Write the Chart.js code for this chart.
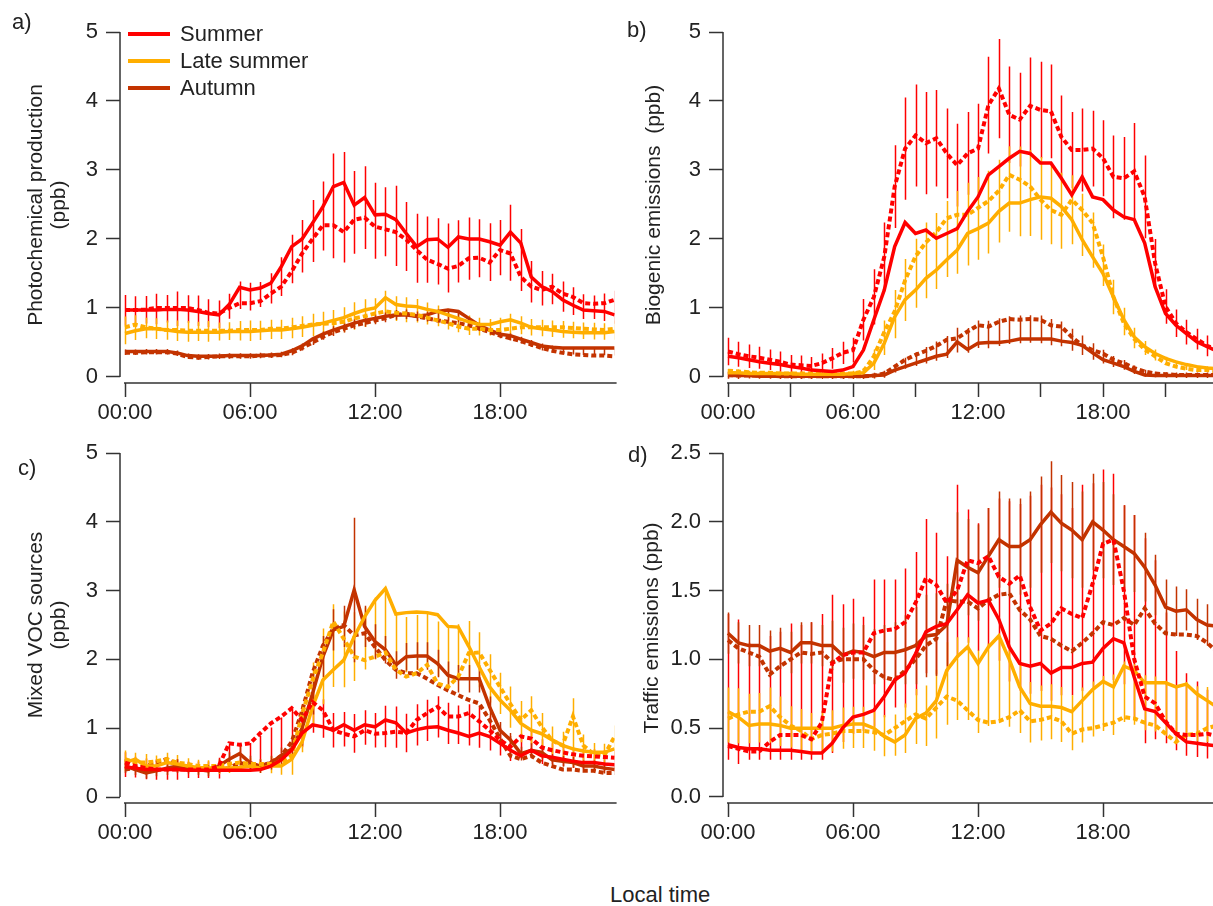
<!DOCTYPE html>
<html>
<head>
<meta charset="utf-8">
<script src="https://cdn.jsdelivr.net/npm/chart.js@4.4.1/dist/chart.umd.min.js"></script>
<style>
  html, body { margin: 0; padding: 0; background: #fff; overflow: hidden; }
  body { width: 1213px; height: 906px; position: relative; font-family: "Liberation Sans", Arial, sans-serif; color: #222; }
  canvas { position: absolute; }
  .txt { position: absolute; font-size: 22px; white-space: pre; line-height: 23px; }
  .ytitle { position: absolute; font-size: 21px; white-space: pre; line-height: 23px; text-align: center;
            transform: translate(-50%, -50%) rotate(-90deg); }
  .legend { position: absolute; left: 128px; top: 20px; font-size: 22px; }
  .legend div { height: 27px; line-height: 27px; }
  .legend span.swatch { display: inline-block; width: 42px; height: 4px; vertical-align: middle; margin-right: 10px; margin-top: -3px; }
</style>
</head>
<body>
<canvas id="panel-a" width="640" height="440" style="left:0px; top:0px;"></canvas>
<canvas id="panel-b" width="640" height="440" style="left:603px; top:0px;"></canvas>
<canvas id="panel-c" width="640" height="440" style="left:0px; top:420px;"></canvas>
<canvas id="panel-d" width="640" height="440" style="left:603px; top:420px;"></canvas>

<div class="txt" style="left:12px; top:10px;">a)</div>
<div class="txt" style="left:627px; top:18px;">b)</div>
<div class="txt" style="left:18px; top:456px;">c)</div>
<div class="txt" style="left:628px; top:443px;">d)</div>

<div class="ytitle" style="left:46px; top:205px;">Photochemical production
(ppb)</div>
<div class="ytitle" style="left:652px; top:205px;">Biogenic emissions  (ppb)</div>
<div class="ytitle" style="left:46px; top:625px;">Mixed VOC sources
(ppb)</div>
<div class="ytitle" style="left:650px; top:628px;">Traffic emissions (ppb)</div>

<div class="txt" style="left:610px; top:883px;">Local time</div>

<div class="legend">
  <div><span class="swatch" style="background:#ff0000"></span>Summer</div>
  <div><span class="swatch" style="background:#ffae00"></span>Late summer</div>
  <div><span class="swatch" style="background:#c33300"></span>Autumn</div>
</div>

<script>
// Half-hourly diel profiles (local time, hours)
const hours = [0, 0.5, 1, 1.5, 2, 2.5, 3, 3.5, 4, 4.5, 5, 5.5, 6, 6.5, 7, 7.5, 8, 8.5, 9, 9.5,
  10, 10.5, 11, 11.5, 12, 12.5, 13, 13.5, 14, 14.5, 15, 15.5, 16, 16.5, 17, 17.5, 18, 18.5, 19, 19.5,
  20, 20.5, 21, 21.5, 22, 22.5, 23, 23.5];

const seasonNames = ['Summer', 'Late summer', 'Autumn'];
const seasonColors = ['#ff0000', '#ffae00', '#c33300'];

const xTicksMain = [0, 6, 12, 18];
const xLabelsMain = ['00:00', '06:00', '12:00', '18:00'];
const xTicksMinor = [0, 3, 6, 9, 12, 15, 18, 21];
const xLabelsMinor = ['00:00', '', '06:00', '', '12:00', '', '18:00', ''];
const yTicksFive = [0, 1, 2, 3, 4, 5];
const yLabelsFive = ['0', '1', '2', '3', '4', '5'];
const yTicksTraffic = [0, 0.5, 1, 1.5, 2, 2.5];
const yLabelsTraffic = ['0.0', '0.5', '1.0', '1.5', '2.0', '2.5'];

// a) Photochemical production (ppb)
const photoSummer = [0.97, 0.97, 0.97, 0.97, 0.98, 0.98, 0.97, 0.95, 0.92, 0.9,
  1.05, 1.3, 1.26, 1.29, 1.36, 1.6, 1.89, 2.0, 2.23, 2.47,
  2.76, 2.82, 2.49, 2.6, 2.35, 2.36, 2.28, 2.08, 1.89, 1.99,
  2.0, 1.88, 2.03, 2.0, 2.0, 1.96, 1.91, 2.1, 1.94, 1.45,
  1.31, 1.24, 1.12, 1.04, 0.97, 0.96, 0.95, 0.9];
const photoSummerDash = [0.97, 0.97, 0.98, 1.0, 1.0, 1.0, 1.0, 0.97, 0.93, 0.92,
  1.0, 1.07, 1.07, 1.1, 1.21, 1.31, 1.53, 1.79, 2.0, 2.2,
  2.2, 2.1, 2.28, 2.31, 2.18, 2.14, 2.1, 1.99, 1.84, 1.7,
  1.64, 1.57, 1.61, 1.72, 1.73, 1.66, 1.84, 1.79, 1.45, 1.31,
  1.26, 1.31, 1.21, 1.16, 1.07, 1.06, 1.07, 1.12];
const photoSummerErr = [0.22, 0.2, 0.2, 0.22, 0.2, 0.25, 0.2, 0.22, 0.2, 0.2,
  0.18, 0.2, 0.2, 0.18, 0.22, 0.28, 0.35, 0.38, 0.45, 0.5,
  0.76, 0.8, 0.6, 0.6, 0.55, 0.5, 0.58, 0.5, 0.5, 0.48,
  0.48, 0.5, 0.45, 0.45, 0.42, 0.42, 0.4, 0.55, 0.45, 0.3,
  0.25, 0.22, 0.22, 0.2, 0.18, 0.17, 0.2, 0.24];
const photoLate = [0.63, 0.67, 0.7, 0.7, 0.68, 0.66, 0.65, 0.65, 0.65, 0.65,
  0.66, 0.66, 0.66, 0.67, 0.68, 0.68, 0.7, 0.72, 0.75, 0.78,
  0.82, 0.86, 0.92, 0.97, 1.0, 1.15, 1.05, 1.03, 1.02, 0.98,
  0.95, 0.9, 0.85, 0.8, 0.76, 0.76, 0.8, 0.83, 0.78, 0.72,
  0.7, 0.68, 0.66, 0.65, 0.64, 0.64, 0.64, 0.66];
const photoLateDash = [0.72, 0.76, 0.72, 0.7, 0.68, 0.68, 0.67, 0.67, 0.67, 0.67,
  0.67, 0.68, 0.68, 0.68, 0.7, 0.7, 0.72, 0.74, 0.76, 0.77,
  0.78, 0.8, 0.85, 0.88, 0.92, 0.95, 0.93, 0.92, 0.9, 0.86,
  0.82, 0.78, 0.73, 0.7, 0.7, 0.68, 0.68, 0.7, 0.72, 0.72,
  0.72, 0.72, 0.72, 0.71, 0.7, 0.69, 0.68, 0.7];
const photoLateErr = [0.2, 0.18, 0.15, 0.15, 0.14, 0.15, 0.15, 0.14, 0.15, 0.13,
  0.13, 0.14, 0.15, 0.14, 0.14, 0.14, 0.15, 0.15, 0.16, 0.17,
  0.17, 0.18, 0.2, 0.2, 0.18, 0.2, 0.18, 0.18, 0.17, 0.16,
  0.15, 0.15, 0.14, 0.14, 0.13, 0.12, 0.12, 0.15, 0.13, 0.12,
  0.12, 0.12, 0.12, 0.12, 0.12, 0.12, 0.12, 0.14];
const photoAutumn = [0.37, 0.37, 0.37, 0.37, 0.37, 0.35, 0.31, 0.3, 0.3, 0.3,
  0.31, 0.31, 0.31, 0.31, 0.32, 0.33, 0.38, 0.45, 0.55, 0.62,
  0.68, 0.73, 0.78, 0.82, 0.85, 0.88, 0.9, 0.9, 0.88, 0.9,
  0.95, 0.97, 0.95, 0.85, 0.75, 0.68, 0.62, 0.6, 0.55, 0.5,
  0.45, 0.43, 0.42, 0.42, 0.42, 0.42, 0.42, 0.42];
const photoAutumnDash = [0.35, 0.35, 0.36, 0.36, 0.36, 0.34, 0.29, 0.28, 0.29, 0.3,
  0.3, 0.3, 0.3, 0.31, 0.31, 0.32, 0.35, 0.42, 0.5, 0.58,
  0.65, 0.7, 0.75, 0.78, 0.82, 0.85, 0.9, 0.92, 0.88, 0.85,
  0.82, 0.8, 0.78, 0.75, 0.7, 0.65, 0.6, 0.56, 0.52, 0.47,
  0.42, 0.38, 0.35, 0.33, 0.32, 0.31, 0.31, 0.3];
const photoAutumnErr = [0.04, 0.04, 0.04, 0.04, 0.04, 0.04, 0.04, 0.04, 0.04, 0.04,
  0.04, 0.04, 0.04, 0.04, 0.04, 0.04, 0.05, 0.05, 0.06, 0.06,
  0.07, 0.07, 0.07, 0.07, 0.07, 0.07, 0.07, 0.07, 0.07, 0.07,
  0.07, 0.07, 0.07, 0.06, 0.06, 0.05, 0.05, 0.05, 0.05, 0.05,
  0.05, 0.05, 0.05, 0.05, 0.05, 0.05, 0.05, 0.05];

// b) Biogenic emissions (ppb)
const bioSummer = [0.3, 0.28, 0.25, 0.22, 0.2, 0.18, 0.15, 0.13, 0.1, 0.09,
  0.08, 0.1, 0.15, 0.39, 0.83, 1.26, 1.89, 2.24, 2.08, 2.13,
  2.01, 2.08, 2.15, 2.4, 2.61, 2.93, 3.05, 3.17, 3.27, 3.24,
  3.1, 3.1, 2.88, 2.64, 2.9, 2.61, 2.57, 2.42, 2.32, 2.28,
  1.94, 1.31, 0.92, 0.75, 0.63, 0.51, 0.44, 0.37];
const bioSummerDash = [0.37, 0.33, 0.3, 0.28, 0.25, 0.22, 0.18, 0.17, 0.16, 0.2,
  0.27, 0.35, 0.39, 0.83, 1.16, 1.74, 2.76, 3.31, 3.5, 3.39,
  3.46, 3.24, 3.07, 3.24, 3.31, 3.94, 4.18, 3.8, 3.73, 3.93,
  3.87, 3.85, 3.48, 3.29, 3.29, 3.31, 3.17, 2.9, 2.88, 2.98,
  2.61, 1.65, 1.02, 0.78, 0.65, 0.55, 0.45, 0.4];
const bioSummerErr = [0.2, 0.18, 0.17, 0.16, 0.15, 0.15, 0.14, 0.14, 0.13, 0.14,
  0.15, 0.16, 0.18, 0.3, 0.4, 0.5, 0.6, 0.74, 0.74, 0.74,
  0.7, 0.65, 0.6, 0.6, 0.65, 0.7, 0.72, 0.7, 0.68, 0.7,
  0.7, 0.68, 0.6, 0.55, 0.6, 0.55, 0.55, 0.6, 0.6, 0.7,
  0.6, 0.35, 0.25, 0.2, 0.18, 0.15, 0.15, 0.15];
const bioLate = [0.06, 0.06, 0.05, 0.05, 0.05, 0.05, 0.05, 0.04, 0.04, 0.04,
  0.04, 0.04, 0.05, 0.06, 0.2, 0.49, 0.87, 1.12, 1.26, 1.43,
  1.55, 1.7, 1.84, 2.08, 2.15, 2.23, 2.4, 2.52, 2.52, 2.57,
  2.61, 2.59, 2.47, 2.28, 1.99, 1.74, 1.5, 1.16, 0.83, 0.58,
  0.44, 0.34, 0.27, 0.22, 0.18, 0.15, 0.13, 0.12];
const bioLateDash = [0.09, 0.08, 0.07, 0.06, 0.06, 0.05, 0.05, 0.05, 0.05, 0.05,
  0.05, 0.05, 0.05, 0.08, 0.3, 0.65, 0.95, 1.4, 1.75, 1.95,
  2.1, 2.3, 2.35, 2.35, 2.45, 2.55, 2.7, 2.93, 2.86, 2.76,
  2.57, 2.42, 2.35, 2.57, 2.42, 2.23, 1.74, 1.16, 0.78, 0.55,
  0.4, 0.3, 0.2, 0.15, 0.12, 0.1, 0.1, 0.08];
const bioLateErr = [0.04, 0.04, 0.03, 0.03, 0.03, 0.03, 0.03, 0.03, 0.03, 0.03,
  0.03, 0.03, 0.04, 0.06, 0.15, 0.25, 0.35, 0.45, 0.5, 0.55,
  0.55, 0.55, 0.6, 0.6, 0.6, 0.6, 0.6, 0.62, 0.65, 0.62,
  0.6, 0.58, 0.55, 0.5, 0.45, 0.4, 0.3, 0.25, 0.2, 0.15,
  0.1, 0.08, 0.06, 0.05, 0.05, 0.04, 0.04, 0.04];
const bioAutumn = [0.02, 0.02, 0.02, 0.01, 0.01, 0.01, 0.01, 0.01, 0.01, 0.01,
  0.01, 0.01, 0.01, 0.01, 0.02, 0.03, 0.1, 0.15, 0.2, 0.25,
  0.3, 0.33, 0.51, 0.4, 0.49, 0.5, 0.5, 0.52, 0.55, 0.55,
  0.55, 0.55, 0.52, 0.5, 0.46, 0.35, 0.25, 0.2, 0.15, 0.08,
  0.03, 0.02, 0.02, 0.02, 0.02, 0.02, 0.02, 0.02];
const bioAutumnDash = [0.03, 0.02, 0.02, 0.02, 0.02, 0.01, 0.01, 0.01, 0.01, 0.01,
  0.01, 0.01, 0.01, 0.01, 0.02, 0.05, 0.15, 0.25, 0.32, 0.38,
  0.45, 0.54, 0.56, 0.66, 0.75, 0.73, 0.8, 0.84, 0.83, 0.84,
  0.83, 0.75, 0.73, 0.58, 0.46, 0.39, 0.34, 0.25, 0.2, 0.13,
  0.08, 0.05, 0.04, 0.03, 0.03, 0.03, 0.03, 0.03];
const bioAutumnErr = [0.05, 0.05, 0.04, 0.04, 0.04, 0.04, 0.04, 0.04, 0.04, 0.04,
  0.04, 0.04, 0.04, 0.04, 0.04, 0.05, 0.06, 0.08, 0.1, 0.12,
  0.14, 0.16, 0.18, 0.18, 0.2, 0.2, 0.2, 0.2, 0.2, 0.2,
  0.2, 0.19, 0.18, 0.16, 0.14, 0.12, 0.1, 0.08, 0.07, 0.06,
  0.05, 0.04, 0.04, 0.04, 0.04, 0.04, 0.04, 0.04];

// c) Mixed VOC sources (ppb)
const vocSummer = [0.44, 0.42, 0.4, 0.4, 0.4, 0.4, 0.39, 0.39, 0.39, 0.39,
  0.39, 0.39, 0.39, 0.4, 0.45, 0.54, 0.68, 0.93, 1.05, 1.02,
  0.97, 1.05, 0.97, 1.05, 1.02, 1.12, 1.08, 0.93, 0.98, 1.01,
  1.02, 0.97, 0.93, 0.88, 0.93, 0.88, 0.78, 0.68, 0.6, 0.68,
  0.6, 0.58, 0.55, 0.52, 0.5, 0.5, 0.48, 0.47];
const vocSummerDash = [0.5, 0.45, 0.42, 0.4, 0.4, 0.4, 0.4, 0.4, 0.4, 0.45,
  0.78, 0.76, 0.78, 0.93, 1.07, 1.17, 1.29, 1.12, 1.38, 1.26,
  0.97, 0.92, 0.88, 0.97, 0.92, 0.93, 0.95, 0.93, 1.12, 1.22,
  1.31, 1.17, 1.17, 1.22, 1.1, 0.97, 0.83, 0.73, 0.88, 0.85,
  0.72, 0.68, 0.65, 0.62, 0.6, 0.59, 0.58, 0.57];
const vocSummerErr = [0.18, 0.15, 0.15, 0.15, 0.15, 0.15, 0.12, 0.12, 0.12, 0.15,
  0.18, 0.2, 0.2, 0.22, 0.25, 0.3, 0.3, 0.3, 0.28, 0.28,
  0.25, 0.25, 0.28, 0.25, 0.25, 0.3, 0.3, 0.28, 0.3, 0.3,
  0.3, 0.3, 0.28, 0.3, 0.3, 0.25, 0.2, 0.18, 0.18, 0.2,
  0.18, 0.15, 0.15, 0.15, 0.15, 0.15, 0.15, 0.15];
const vocLate = [0.5, 0.55, 0.45, 0.45, 0.5, 0.48, 0.45, 0.43, 0.42, 0.42,
  0.42, 0.43, 0.45, 0.42, 0.45, 0.45, 0.55, 0.8, 1.31, 1.7,
  1.85, 1.99, 2.33, 2.62, 2.86, 3.03, 2.66, 2.68, 2.69, 2.68,
  2.65, 2.48, 2.47, 2.19, 1.89, 1.6, 1.41, 1.26, 1.07, 0.97,
  0.92, 0.83, 0.75, 0.7, 0.67, 0.65, 0.65, 0.7];
const vocLateDash = [0.55, 0.5, 0.5, 0.52, 0.55, 0.5, 0.48, 0.45, 0.45, 0.45,
  0.48, 0.5, 0.48, 0.48, 0.48, 0.5, 0.6, 1.2, 1.7, 2.1,
  2.55, 2.3, 2.04, 1.99, 2.04, 2.1, 1.85, 1.75, 1.8, 1.92,
  1.65, 1.6, 1.75, 2.09, 2.1, 1.85, 1.6, 1.35, 1.12, 1.26,
  1.02, 0.82, 0.75, 1.17, 0.75, 0.62, 0.6, 0.88];
const vocLateErr = [0.15, 0.12, 0.15, 0.12, 0.12, 0.12, 0.1, 0.1, 0.1, 0.1,
  0.1, 0.1, 0.1, 0.1, 0.12, 0.15, 0.25, 0.35, 0.45, 0.55,
  0.6, 0.55, 0.5, 0.45, 0.45, 0.45, 0.4, 0.4, 0.4, 0.4,
  0.4, 0.42, 0.4, 0.42, 0.4, 0.35, 0.3, 0.3, 0.3, 0.35,
  0.25, 0.2, 0.2, 0.5, 0.2, 0.15, 0.15, 0.25];
const vocAutumn = [0.45, 0.4, 0.35, 0.38, 0.42, 0.45, 0.42, 0.4, 0.38, 0.45,
  0.55, 0.63, 0.5, 0.45, 0.5, 0.6, 0.7, 1.0, 1.5, 2.04,
  2.43, 2.48, 3.01, 2.48, 2.26, 2.14, 1.92, 2.04, 2.05, 2.05,
  1.94, 1.77, 1.72, 1.72, 1.72, 1.31, 0.97, 0.83, 0.63, 0.68,
  0.65, 0.54, 0.52, 0.5, 0.45, 0.45, 0.42, 0.4];
const vocAutumnDash = [0.4, 0.42, 0.45, 0.5, 0.55, 0.48, 0.42, 0.4, 0.4, 0.4,
  0.42, 0.5, 0.45, 0.45, 0.5, 0.6, 0.8, 1.25, 1.8, 2.2,
  2.45, 2.5, 2.35, 2.38, 2.18, 1.99, 1.85, 1.8, 1.8, 1.72,
  1.63, 1.55, 1.48, 1.41, 1.36, 1.12, 0.85, 0.6, 0.55, 0.6,
  0.5, 0.45, 0.4, 0.4, 0.38, 0.38, 0.35, 0.35];
const vocAutumnErr = [0.1, 0.08, 0.08, 0.08, 0.1, 0.1, 0.08, 0.08, 0.08, 0.1,
  0.1, 0.12, 0.1, 0.1, 0.1, 0.12, 0.15, 0.25, 0.3, 0.3,
  0.3, 0.3, 1.05, 0.3, 0.25, 0.2, 0.2, 0.2, 0.2, 0.2,
  0.2, 0.2, 0.2, 0.2, 0.2, 0.15, 0.12, 0.1, 0.1, 0.1,
  0.1, 0.08, 0.08, 0.08, 0.08, 0.08, 0.08, 0.08];

// d) Traffic emissions (ppb); summer spread is skewed, so it has separate lower and upper arms
const trafSummer = [0.38, 0.36, 0.35, 0.35, 0.34, 0.34, 0.34, 0.33, 0.32, 0.32,
  0.39, 0.5, 0.58, 0.6, 0.63, 0.73, 0.85, 0.9, 1.04, 1.2,
  1.24, 1.26, 1.36, 1.47, 1.41, 1.43, 1.29, 1.09, 0.97, 0.95,
  0.97, 0.9, 0.94, 0.94, 0.97, 0.98, 1.08, 1.15, 1.12, 0.87,
  0.64, 0.62, 0.54, 0.46, 0.4, 0.39, 0.38, 0.37];
const trafSummerDash = [0.37, 0.35, 0.33, 0.33, 0.4, 0.45, 0.45, 0.45, 0.42, 0.54,
  0.97, 1.03, 1.05, 1.05, 1.19, 1.21, 1.22, 1.27, 1.41, 1.59,
  1.54, 1.41, 1.5, 1.72, 1.7, 1.75, 1.6, 1.55, 1.61, 1.38,
  1.21, 1.26, 1.37, 1.33, 1.3, 1.55, 1.84, 1.87, 1.5, 1.0,
  0.73, 0.68, 0.55, 0.46, 0.45, 0.45, 0.46, 0.44];
const trafSummerErr = [0.11, 0.12, 0.08, 0.08, 0.07, 0.07, 0.07, 0.06, 0.05, 0.05,
  0.07, 0.1, 0.12, 0.12, 0.12, 0.15, 0.2, 0.25, 0.3, 0.3,
  0.35, 0.35, 0.35, 0.35, 0.35, 0.35, 0.3, 0.25, 0.2, 0.2,
  0.2, 0.2, 0.2, 0.2, 0.2, 0.2, 0.25, 0.3, 0.3, 0.3,
  0.25, 0.2, 0.15, 0.12, 0.1, 0.1, 0.1, 0.1];
const trafSummerErrUp = [0.95, 0.93, 0.77, 0.74, 0.83, 0.86, 0.92, 0.92, 0.95, 1.01,
  1.08, 0.9, 0.86, 0.71, 0.95, 0.85, 0.73, 0.76, 0.74, 0.82,
  0.68, 0.49, 0.91, 0.62, 0.58, 0.67, 0.88, 1.06, 1.16, 1.24,
  1.3, 1.35, 1.26, 1.16, 1.3, 1.3, 1.3, 1.2, 1.0, 1.18,
  1.24, 1.1, 0.8, 0.6, 0.5, 0.45, 0.4, 0.4];
const trafLate = [0.62, 0.58, 0.52, 0.53, 0.53, 0.52, 0.5, 0.5, 0.5, 0.5,
  0.5, 0.52, 0.53, 0.53, 0.5, 0.44, 0.4, 0.45, 0.57, 0.61,
  0.7, 0.92, 1.02, 1.09, 0.97, 1.09, 1.17, 1.0, 0.8, 0.68,
  0.66, 0.66, 0.65, 0.62, 0.7, 0.78, 0.84, 0.8, 0.95, 0.92,
  0.83, 0.83, 0.83, 0.8, 0.82, 0.75, 0.7, 0.65];
const trafLateDash = [0.57, 0.6, 0.62, 0.62, 0.66, 0.58, 0.52, 0.48, 0.42, 0.45,
  0.46, 0.48, 0.48, 0.48, 0.47, 0.45, 0.5, 0.55, 0.6, 0.57,
  0.65, 0.73, 0.7, 0.63, 0.56, 0.54, 0.55, 0.58, 0.63, 0.55,
  0.56, 0.58, 0.55, 0.46, 0.49, 0.5, 0.52, 0.54, 0.58, 0.57,
  0.54, 0.52, 0.46, 0.4, 0.45, 0.46, 0.5, 0.52];
const trafLateErr = [0.2, 0.2, 0.18, 0.18, 0.2, 0.18, 0.15, 0.15, 0.15, 0.15,
  0.15, 0.15, 0.15, 0.15, 0.15, 0.15, 0.15, 0.18, 0.2, 0.22,
  0.25, 0.3, 0.3, 0.3, 0.3, 0.3, 0.3, 0.28, 0.25, 0.22,
  0.2, 0.2, 0.2, 0.2, 0.2, 0.2, 0.2, 0.22, 0.22, 0.22,
  0.2, 0.2, 0.2, 0.2, 0.2, 0.2, 0.2, 0.2];
const trafAutumn = [1.19, 1.12, 1.1, 1.1, 1.06, 1.08, 1.05, 1.12, 1.12, 1.1,
  1.1, 1.03, 1.06, 1.05, 1.02, 1.05, 1.05, 1.07, 1.1, 1.17,
  1.18, 1.25, 1.72, 1.67, 1.63, 1.75, 1.87, 1.82, 1.82, 1.87,
  1.98, 2.07, 1.99, 1.94, 1.87, 2.0, 1.94, 1.87, 1.82, 1.77,
  1.67, 1.54, 1.38, 1.35, 1.36, 1.29, 1.25, 1.24];
const trafAutumnDash = [1.14, 1.08, 1.05, 1.02, 0.89, 0.95, 1.0, 1.05, 1.04, 1.05,
  0.98, 1.0, 1.0, 1.0, 0.92, 0.87, 0.85, 0.92, 1.0, 1.1,
  1.15, 1.43, 1.42, 1.42, 1.37, 1.43, 1.47, 1.48, 1.36, 1.29,
  1.17, 1.15, 1.1, 1.06, 1.12, 1.19, 1.27, 1.25, 1.3, 1.25,
  1.37, 1.26, 1.19, 1.18, 1.18, 1.17, 1.12, 1.05];
const trafAutumnErr = [0.15, 0.15, 0.15, 0.15, 0.15, 0.15, 0.15, 0.15, 0.15, 0.15,
  0.18, 0.2, 0.2, 0.2, 0.2, 0.2, 0.22, 0.25, 0.28, 0.3,
  0.3, 0.3, 0.35, 0.35, 0.35, 0.35, 0.35, 0.35, 0.35, 0.35,
  0.35, 0.37, 0.35, 0.35, 0.35, 0.35, 0.35, 0.33, 0.3, 0.28,
  0.25, 0.22, 0.2, 0.18, 0.15, 0.15, 0.15, 0.15];

Chart.defaults.font.family = '"Liberation Sans", Arial, sans-serif';
Chart.defaults.font.size = 22;
Chart.defaults.color = '#222';

// vertical spread bars, centred on the solid line, the dashed line or midway between them
function errorBars(groups) {
  return {
    id: 'errorBars',
    beforeDatasetsDraw(chart) {
      const { ctx, chartArea } = chart;
      const xs = chart.scales.x, ys = chart.scales.y;
      ctx.save();
      ctx.beginPath();
      ctx.rect(chartArea.left, chartArea.top, chartArea.right - chartArea.left, chartArea.bottom - chartArea.top);
      ctx.clip();
      ctx.lineWidth = 1.5;
      groups.forEach(g => {
        ctx.strokeStyle = g.color;
        const up = g.errUp || g.err;
        hours.forEach((h, i) => {
          let c;
          if (g.center === 'solid') c = g.solid[i];
          else if (g.center === 'dash') c = g.dash[i];
          else c = (g.solid[i] + g.dash[i]) / 2;
          const px = Math.round(xs.getPixelForValue(h)) + 0.5;
          ctx.beginPath();
          ctx.moveTo(px, ys.getPixelForValue(c - g.err[i]));
          ctx.lineTo(px, ys.getPixelForValue(c + up[i]));
          ctx.stroke();
        });
      });
      ctx.restore();
    }
  };
}

// detached axis lines: y spans its tick range, x starts at midnight
function axisLines(yTicks) {
  return {
    id: 'axisLines',
    beforeDatasetsDraw(chart) {
      const { ctx, chartArea } = chart;
      const xs = chart.scales.x, ys = chart.scales.y;
      ctx.save();
      ctx.strokeStyle = '#333';
      ctx.lineWidth = 1.5;
      ctx.beginPath();
      ctx.moveTo(chartArea.left, ys.getPixelForValue(yTicks[0]));
      ctx.lineTo(chartArea.left, ys.getPixelForValue(yTicks[yTicks.length - 1]));
      ctx.moveTo(xs.getPixelForValue(0) - 1, chartArea.bottom);
      ctx.lineTo(xs.getPixelForValue(xs.max) + 2, chartArea.bottom);
      ctx.stroke();
      ctx.restore();
    }
  };
}

function toPoints(arr) {
  return hours.map((h, i) => ({ x: h, y: arr[i] }));
}

function makePanel(id, series, opts) {
  const datasets = [];
  series.forEach((s, k) => {
    datasets.push({
      label: seasonNames[k],
      data: toPoints(s.solid),
      borderColor: seasonColors[k],
      borderWidth: 3.5,
      pointRadius: 0,
      tension: 0
    });
    datasets.push({
      label: seasonNames[k] + ' (dashed)',
      data: toPoints(s.dash),
      borderColor: seasonColors[k],
      borderWidth: 4,
      borderDash: [5, 3],
      pointRadius: 0,
      tension: 0
    });
  });

  const bars = series.map((s, k) => Object.assign({ color: seasonColors[k] }, s));

  return new Chart(document.getElementById(id), {
    type: 'line',
    data: { datasets: datasets },
    options: {
      responsive: false,
      animation: false,
      events: [],
      layout: { padding: { left: 0, top: opts.top, right: 25.4, bottom: 0 } },
      plugins: { legend: { display: false }, tooltip: { enabled: false } },
      scales: {
        x: {
          type: 'linear',
          min: -0.24,
          max: 23.5,
          afterFit: scale => { scale.height = 57; },
          afterBuildTicks: scale => { scale.ticks = opts.xTicks.map(v => ({ value: v })); },
          ticks: {
            autoSkip: false,
            maxRotation: 0,
            padding: 3,
            color: '#222',
            callback: (v, i) => opts.xLabels[i]
          },
          grid: { drawOnChartArea: false, drawTicks: true, tickLength: 14, tickColor: '#333', tickWidth: 1.5 },
          border: { display: false }
        },
        y: {
          type: 'linear',
          min: opts.yMin,
          max: opts.yMax,
          afterFit: scale => { scale.width = 120; },
          afterBuildTicks: scale => { scale.ticks = opts.yTicks.map(v => ({ value: v })); },
          ticks: {
            autoSkip: false,
            padding: 8,
            color: '#222',
            callback: (v, i) => opts.yLabels[i]
          },
          grid: { drawOnChartArea: false, drawTicks: true, tickLength: 14, tickColor: '#333', tickWidth: 1.5 },
          border: { display: false }
        }
      }
    },
    plugins: [errorBars(bars), axisLines(opts.yTicks)]
  });
}

makePanel('panel-a', [
  { solid: photoSummer, dash: photoSummerDash, err: photoSummerErr, center: 'mid' },
  { solid: photoLate, dash: photoLateDash, err: photoLateErr, center: 'mid' },
  { solid: photoAutumn, dash: photoAutumnDash, err: photoAutumnErr, center: 'mid' }
], { top: 32, yMin: -0.087, yMax: 5, yTicks: yTicksFive, yLabels: yLabelsFive, xTicks: xTicksMain, xLabels: xLabelsMain });

makePanel('panel-b', [
  { solid: bioSummer, dash: bioSummerDash, err: bioSummerErr, center: 'dash' },
  { solid: bioLate, dash: bioLateDash, err: bioLateErr, center: 'mid' },
  { solid: bioAutumn, dash: bioAutumnDash, err: bioAutumnErr, center: 'mid' }
], { top: 32, yMin: -0.087, yMax: 5, yTicks: yTicksFive, yLabels: yLabelsFive, xTicks: xTicksMinor, xLabels: xLabelsMinor });

makePanel('panel-c', [
  { solid: vocSummer, dash: vocSummerDash, err: vocSummerErr, center: 'mid' },
  { solid: vocLate, dash: vocLateDash, err: vocLateErr, center: 'mid' },
  { solid: vocAutumn, dash: vocAutumnDash, err: vocAutumnErr, center: 'solid' }
], { top: 33, yMin: -0.087, yMax: 5, yTicks: yTicksFive, yLabels: yLabelsFive, xTicks: xTicksMain, xLabels: xLabelsMain });

makePanel('panel-d', [
  { solid: trafSummer, dash: trafSummerDash, err: trafSummerErr, errUp: trafSummerErrUp, center: 'solid' },
  { solid: trafLate, dash: trafLateDash, err: trafLateErr, center: 'mid' },
  { solid: trafAutumn, dash: trafAutumnDash, err: trafAutumnErr, center: 'solid' }
], { top: 33, yMin: -0.044, yMax: 2.5, yTicks: yTicksTraffic, yLabels: yLabelsTraffic, xTicks: xTicksMain, xLabels: xLabelsMain });
</script>
</body>
</html>
